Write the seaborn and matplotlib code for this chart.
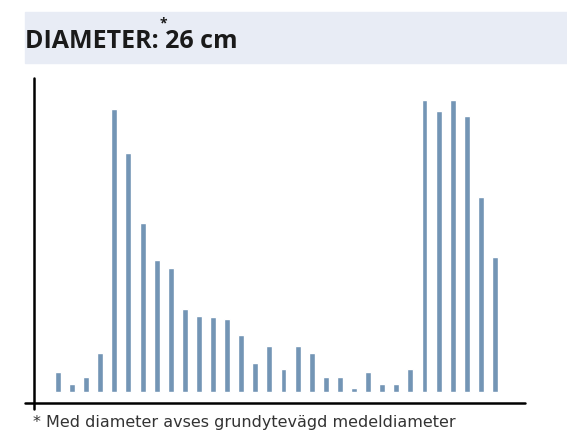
import numpy as np
import pandas as pd
import matplotlib
matplotlib.use("Agg")
import matplotlib.pyplot as plt
import seaborn as sns
from matplotlib.patches import Rectangle

# ---------------------------------------------------
# DATA (heights, arbitrary units)
# ---------------------------------------------------

klass = list(range(1, 33))

andel = [
    20, 8, 15, 39, 283, 239, 169, 132, 124, 83, 76,
    75, 73, 57, 29, 46, 23, 46, 39, 15, 15, 4,
    20, 8, 8, 23, 292, 281, 292, 276, 195, 135
]

title = "DIAMETER: 26 cm"
footnote = "* Med diameter avses grundytevägd medeldiameter"

bar_color = "#7395b5"

df = pd.DataFrame({"klass": klass, "andel": andel})

# ---------------------------------------------------
# FIGURE
# ---------------------------------------------------

sns.set_style("white")
plt.rcParams["font.family"] = ["Open Sans", "DejaVu Sans"]

W, H = 567, 446
fig = plt.figure(figsize=(W / 100, H / 100), dpi=100)

# title band
fig.patches.append(Rectangle(
    (25 / W, 1 - 63 / H), 1 - 25 / W, 51 / H,
    transform=fig.transFigure, color="#e8ecf5", zorder=0
))

fig.text(25 / W, 1 - 48 / H, title, fontsize=18, fontweight="bold",
         color="#1a1a1a", ha="left", va="baseline")
fig.text(163 / W, 1 - 27 / H, "*", fontsize=10, fontweight="bold",
         color="#1a1a1a", ha="center", va="baseline")

ax = fig.add_axes([34 / W, 1 - 403 / H, (525 - 34) / W, (403 - 78) / H])

sns.barplot(
    data=df,
    x="klass",
    y="andel",
    color=bar_color,
    width=0.42,
    saturation=1,
    ax=ax
)

ax.set_xlim(-1.7, 33.13)
ax.set_ylim(-11, 314)

for s in ax.spines.values():
    s.set_visible(False)
ax.set_xticks([])
ax.set_yticks([])
ax.set_xlabel("")
ax.set_ylabel("")
ax.patch.set_alpha(0)

# axis lines crossing at origin
ax.plot([-9 / 491, 1], [0, 0], color="black", lw=1.8,
        transform=ax.transAxes, clip_on=False)
ax.plot([0, 0], [-6 / 325, 1], color="black", lw=1.8,
        transform=ax.transAxes, clip_on=False)

fig.text(33 / W, 1 - 427 / H, footnote, fontsize=11.5,
         color="#333333", ha="left", va="baseline",
         family=["DejaVu Sans"])

fig.savefig("out.png", dpi=100, facecolor="white")
